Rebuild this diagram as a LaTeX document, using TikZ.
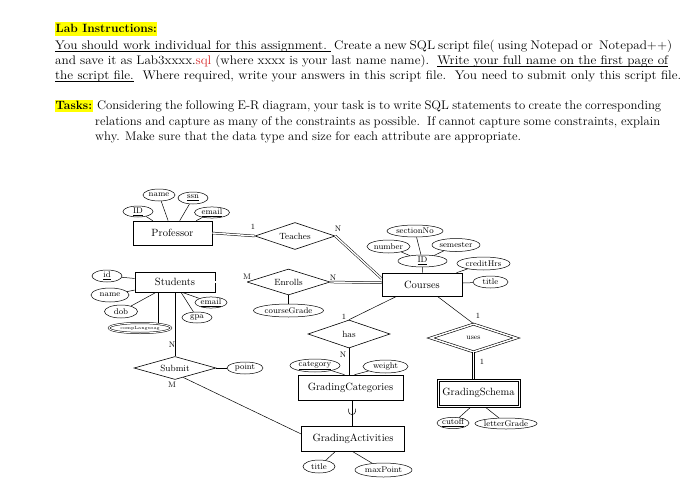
\documentclass[tikz,border=0pt]{standalone}
\usepackage{fontspec}
\newfontfamily\instr{Latin Modern Roman}[FakeStretch=1.06]
\newfontfamily\instrb{Latin Modern Roman}[FakeStretch=1.02]
\usetikzlibrary{shapes.geometric,calc}
\definecolor{hl}{RGB}{255,255,0}
\definecolor{sqlred}{RGB}{215,40,40}
\newcommand\zw[1]{\makebox[0pt]{#1}}
\newcommand\fitw[2]{\makebox[#1][s]{#2}}
\newcommand\ul[1]{\setbox0\hbox{#1}\rlap{\rule[-1.9pt]{\wd0}{0.55pt}}\box0}
\begin{document}
\begin{tikzpicture}[x=1pt,y=-1pt,
  ent/.style={draw, rectangle, inner sep=0pt, line width=0.6pt, font=\fontsize{10.5}{12}\selectfont},
  rel/.style={draw, diamond, inner sep=0pt, line width=0.6pt, font=\fontsize{9}{10}\selectfont},
  attr/.style={draw, ellipse, inner sep=0pt, line width=0.5pt, font=\fontsize{8.3}{9}\selectfont},
  lnk/.style={line width=0.5pt},
  dbl/.style={double, double distance=1.4pt, line width=0.5pt},
  card/.style={inner sep=0pt, font=\fontsize{8}{9}\selectfont},
  txt/.style={anchor=base west, inner sep=0pt, font=\instr\fontsize{12.5}{15}\selectfont},
  txtb/.style={anchor=base west, inner sep=0pt, font=\instrb\fontsize{12.5}{15}\selectfont},
  hltxt/.style={anchor=base west, inner sep=0pt, fill=hl, font=\fontsize{12}{15}\selectfont\bfseries},
]
\fill[white] (0,0) rectangle (700,497);
\useasboundingbox (0,0) rectangle (700,497);

% ---------- instructions text ----------
\node[hltxt, inner xsep=0.5pt, inner ysep=2.5pt] (lab) at (55,33) {Lab Instructions:};
\node[txt] (l1) at (55,50) {\fitw{617pt}{\ul{You should work individual for this assignment.\ }\ Create a new SQL script file( using Notepad or\ \ Notepad++)}};
\node[txt] (l2) at (55,65) {\fitw{613pt}{and save it as Lab3xxxx.\textcolor{sqlred}{sql} (where xxxx is your last name name).\ \ \ul{Write your full name on the first page of}}};
\node[txt] (l3) at (55,80) {\fitw{626pt}{\ul{the script file.}\ \ Where required, write your answers in this script file.\ \ You need to submit only this script file.}};

\node[hltxt, inner xsep=0.5pt, inner ysep=2pt] (tasks) at (55,110) {Tasks:};
\node[txtb] (t1) at (97,110) {\fitw{564pt}{Considering the following E-R diagram, your task is to write SQL statements to create the corresponding}};
\node[txtb] (t2) at (95,126) {\fitw{565pt}{relations and capture as many of the constraints as possible.\ \ If cannot capture some constraints, explain}};
\node[txtb] (t3) at (95,141) {\fitw{426pt}{why. Make sure that the data type and size for each attribute are appropriate.}};

% ---------- entities / relationships / attributes ----------
\node[ent, minimum width=79pt, minimum height=24pt] (prof) at (172.5,233) {Professor};
\node[attr, minimum width=30pt, minimum height=11pt] (pid) at (138,211.5) {\zw{\underline{ID}}};
\node[attr, minimum width=32pt, minimum height=12pt] (pname) at (159,195) {\zw{name}};
\node[attr, minimum width=30pt, minimum height=12pt] (pssn) at (193,198) {\zw{\underline{ssn}}};
\node[attr, minimum width=35pt, minimum height=11pt] (pemail) at (212,212.5) {\zw{\underline{email}}};

\node[rel, minimum width=80pt, minimum height=27pt] (teach) at (295,236) {\zw{Teaches}};

\node[ent, minimum width=80pt, minimum height=23pt] (crs) at (422,284.5) {Courses};
\node[attr, minimum width=49pt, minimum height=12pt] (cid) at (422.5,261) {\zw{\underline{ID}}};
\node[attr, minimum width=43pt, minimum height=13pt] (cnum) at (388.5,246.5) {\zw{number}};
\node[attr, minimum width=56pt, minimum height=12pt] (csec) at (415,231) {\zw{sectionNo}};
\node[attr, minimum width=48pt, minimum height=13pt] (csem) at (456,245) {\zw{semester}};
\node[attr, minimum width=53pt, minimum height=13pt] (ccr) at (483.5,263.5) {\zw{creditHrs}};
\node[attr, minimum width=35pt, minimum height=12pt] (ctitle) at (490.5,282) {\zw{title}};

\node[ent, minimum width=80pt, minimum height=20pt] (stu) at (175,282) {Students};
\node[attr, minimum width=30pt, minimum height=12pt] (sid) at (107,276) {\zw{\underline{id}}};
\node[attr, minimum width=38pt, minimum height=14pt] (sname) at (110,295) {\zw{name}};
\node[attr, minimum width=33pt, minimum height=13pt] (sdob) at (121,311.5) {\zw{dob}};
\node[attr, double, double distance=1pt, minimum width=62pt, minimum height=10pt] (slang) at (140,328) {\zw{\fontsize{4.5}{5}\selectfont compLangusag}};
\node[attr, minimum width=32pt, minimum height=11pt] (semail) at (211,302.5) {\zw{\underline{email}}};
\node[attr, minimum width=30pt, minimum height=11pt] (sgpa) at (197,317.5) {\zw{gpa}};

\node[rel, minimum width=83pt, minimum height=26pt] (enr) at (288.5,282) {\zw{Enrolls}};
\node[attr, minimum width=70pt, minimum height=13pt] (cgrade) at (288.5,310.5) {\zw{courseGrade}};

\node[rel, minimum width=82pt, minimum height=23pt] (sub) at (175,368) {\zw{Submit}};
\node[attr, minimum width=36pt, minimum height=12pt] (point) at (245,368) {\zw{point}};

\node[rel, minimum width=82pt, minimum height=28pt] (has) at (349,334) {\zw{has}};
\node[ent, minimum width=105pt, minimum height=25pt] (gc) at (350.5,387.5) {GradingCategories};
\node[attr, minimum width=50pt, minimum height=13pt] (cat) at (315,365.5) {\zw{\underline{category}}};
\node[attr, minimum width=45pt, minimum height=13pt] (wt) at (385.5,366.5) {\zw{weight}};

\node[ent, minimum width=103pt, minimum height=25pt] (ga) at (353,439) {GradingActivities};
\node[attr, minimum width=32pt, minimum height=13pt] (gtitle) at (319,466.5) {\zw{title}};
\node[attr, minimum width=57pt, minimum height=14pt] (gmax) at (383.5,470) {\zw{maxPoint}};

\node[rel, double, double distance=1.5pt, minimum width=86pt, minimum height=28pt] (uses) at (473.5,338) {\zw{\fontsize{7.5}{8}\selectfont uses}};
\node[ent, minimum width=83pt, minimum height=28pt] (gs) at (478.5,393) {GradingSchema};
\draw[line width=0.6pt] ($(gs.north west)+(2.5,2.5)$) rectangle ($(gs.south east)+(-2.5,-2.5)$);
\node[attr, minimum width=32pt, minimum height=10pt] (cut) at (453,423) {\zw{\underline{cutoff}}};
\node[attr, minimum width=62pt, minimum height=11pt] (lg) at (506,423.5) {\zw{letterGrade}};

% ---------- cardinalities ----------
\node[card] (c1) at (253,227) {1};
\node[card] (c2) at (338,229) {N};
\node[card] (c3) at (247,277) {M};
\node[card] (c4) at (333,278) {N};
\node[card] (c5) at (344,316.5) {1};
\node[card] (c6) at (343,355) {N};
\node[card] (c7) at (172,345) {N};
\node[card] (c8) at (172,384.5) {M};
\node[card] (c9) at (478,316) {1};
\node[card] (c10) at (482,361.5) {1};

% ---------- connectors ----------
\draw[dbl] (prof.east) -- (teach.west);
\draw[dbl] (teach.east) -- ([yshift=-6pt]crs.north west);
\draw[dbl] (stu.east) -- (enr.west);
\draw[dbl] (enr.east) -- ([yshift=-10pt]crs.north west);

\draw[lnk] (pid) -- (prof);
\draw[lnk] (pname) -- (prof);
\draw[lnk] (pssn) -- (prof);
\draw[lnk] (pemail) -- (prof);

\draw[lnk] (cid) -- (crs);
\draw[lnk] (cnum) -- (cid);
\draw[lnk] (csec) -- (cid);
\draw[lnk] (csem) -- (cid);
\draw[lnk] (ccr) -- (crs);
\draw[lnk] (ctitle) -- (crs);

\draw[lnk] (sid) -- (stu);
\draw[lnk] (sname) -- (stu);
\draw[lnk] (sdob) -- (stu);
\coordinate (cl1) at ([xshift=-17pt]stu.south);
\draw[lnk] (cl1) -- (cl1 |- slang.north);
\draw[lnk] ([xshift=7pt]stu.south) -- (semail);
\draw[lnk] ([xshift=6pt]stu.south) -- (sgpa);
\draw[lnk] (stu) -- (sub);
\draw[lnk] (sub) -- (point);
\draw[lnk] ($(sub.south)!0.2!(sub.east)$) -- ([yshift=5pt]ga.west);

\draw[lnk] (enr) -- (cgrade);

\draw[lnk] ([xshift=15pt]crs.south west) -- (has.north);
\draw[lnk] ([xshift=-25pt]crs.south east) -- (uses.north);
\draw[lnk] (has.south) -- (has.south |- gc.north);
\draw[lnk] (cat) -- ([xshift=-6pt]gc.north);
\draw[lnk] (wt) -- ([xshift=4pt]gc.north);
\coordinate (u1) at ([xshift=1.5pt]gc.south);
\draw[lnk] (u1) -- (u1 |- ga.north);
\draw[lnk] (348.5,408.5) -- (348.5,411.5) .. controls (348.5,415.5) and (355.5,415.5) .. (355.5,411.5) -- (355.5,408.5);
\draw[lnk] ([xshift=-18pt]ga.south) -- (gtitle);
\draw[lnk] (ga.south) -- (gmax);

\draw[dbl] (uses.south) -- (uses.south |- gs.north);
\draw[lnk] ([xshift=-8pt]gs.south) -- (cut);
\draw[lnk] ([xshift=7pt]gs.south) -- (lg);
\end{tikzpicture}
\end{document}
